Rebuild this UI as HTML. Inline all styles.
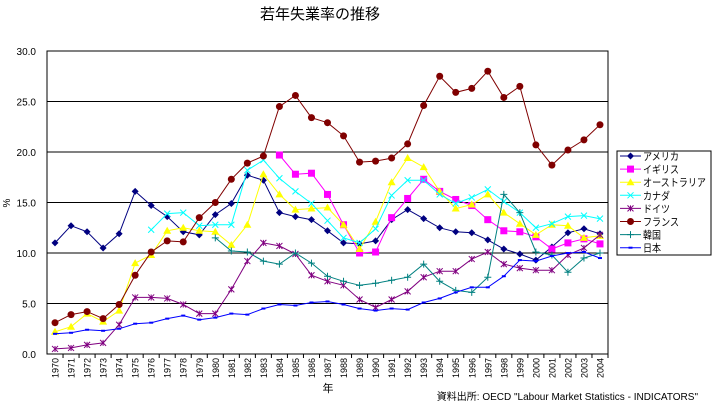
<!DOCTYPE html>
<html><head><meta charset="utf-8">
<style>
html,body{margin:0;padding:0;background:#fff;}
svg{display:block;font-family:"Liberation Sans","Noto Sans CJK JP",sans-serif;}
</style></head>
<body>
<svg id="chart" width="714" height="405" viewBox="0 0 714 405">
<text x="320" y="19" font-size="15" text-anchor="middle">若年失業率の推移</text>
<text x="10" y="203" font-size="10" text-anchor="middle" transform="rotate(-90 10 203)">%</text>
<text x="328" y="392" font-size="11" text-anchor="middle">年</text>
<text x="698" y="400" font-size="10" text-anchor="end">資料出所: OECD "Labour Market Statistics - INDICATORS"</text>
<g id="grid"></g><g id="series"></g><g id="axes"></g><g id="legend"></g>
</svg>
<script>
const years=[1970,1971,1972,1973,1974,1975,1976,1977,1978,1979,1980,1981,1982,1983,1984,1985,1986,1987,1988,1989,1990,1991,1992,1993,1994,1995,1996,1997,1998,1999,2000,2001,2002,2003,2004];
const yTicks=[0,5,10,15,20,25,30];
const seriesNames=["アメリカ","イギリス","オーストラリア","カナダ","ドイツ","フランス","韓国","日本"];
const usa=[11.0,12.7,12.1,10.5,11.9,16.1,14.7,13.6,12.1,11.8,13.8,14.9,17.7,17.2,14.0,13.6,13.3,12.2,11.0,10.9,11.2,13.3,14.3,13.4,12.5,12.1,12.0,11.3,10.4,9.9,9.3,10.6,12.0,12.4,11.9];
const uk=[null,null,null,null,null,null,null,null,null,null,null,null,null,null,19.7,17.8,17.9,15.8,12.8,10.0,10.1,13.5,15.4,17.3,16.1,15.3,14.7,13.3,12.2,12.1,11.6,10.4,11.0,11.4,10.9];
const aus=[2.2,2.7,4.0,3.2,4.3,9.0,9.8,12.2,12.5,12.2,12.1,10.8,12.8,17.8,15.8,14.3,14.4,14.5,12.8,10.4,13.1,17.0,19.4,18.5,16.1,14.4,14.8,15.8,14.0,12.9,11.8,12.8,12.7,11.5,11.7];
const can=[null,null,null,null,null,null,12.3,13.9,14.0,12.7,12.8,12.8,18.2,19.2,17.4,16.1,14.9,13.2,11.5,11.0,12.4,15.7,17.2,17.2,15.8,14.9,15.5,16.3,15.1,14.0,12.5,12.9,13.6,13.7,13.4];
const ger=[0.5,0.6,0.9,1.1,2.9,5.6,5.6,5.5,4.9,4.0,4.0,6.4,9.2,11.0,10.7,9.9,7.8,7.2,6.8,5.4,4.6,5.4,6.2,7.6,8.2,8.2,9.4,10.1,8.9,8.5,8.3,8.3,9.8,10.5,11.8];
const fra=[3.1,3.9,4.2,3.5,4.9,7.8,10.1,11.2,11.1,13.5,15.0,17.3,18.9,19.6,24.5,25.6,23.4,22.9,21.6,19.0,19.1,19.4,20.8,24.6,27.5,25.9,26.3,28.0,25.4,26.5,20.7,18.7,20.2,21.2,22.7];
const kor=[null,null,null,null,null,null,null,null,null,null,11.5,10.2,10.1,9.2,8.9,10.0,9.0,7.7,7.2,6.8,7.0,7.3,7.6,8.9,7.2,6.3,6.1,7.6,15.8,14.0,10.1,9.8,8.1,9.5,10.0];
const jpn=[2.0,2.1,2.4,2.3,2.5,3.0,3.1,3.5,3.8,3.4,3.6,4.0,3.9,4.5,4.9,4.8,5.1,5.2,4.9,4.5,4.3,4.5,4.4,5.1,5.5,6.1,6.6,6.6,7.7,9.3,9.2,9.7,10.0,10.1,9.5];
const allSeries=[usa,uk,aus,can,ger,fra,kor,jpn];
const colors=["#000080","#ff00ff","#ffff00","#00ffff","#800080","#800000","#008080","#0000ff"];
const markers=["diamond","square","triangle","x","star","circle","plus","dash"];
const keys=["usa","uk","australia","canada","germany","france","korea","japan"];

const L=47,R=608,T=51,B=354,yMax=30;
const band=(R-L)/years.length;
const xs=i=>L+band*(i+0.5);
const ys=v=>B-(v/yMax)*(B-T);
const NS="http://www.w3.org/2000/svg";
function mk(tag,attrs,parent){const e=document.createElementNS(NS,tag);for(const k in attrs)e.setAttribute(k,attrs[k]);parent.appendChild(e);return e;}
const grid=document.getElementById('grid'),axes=document.getElementById('axes'),ser=document.getElementById('series'),leg=document.getElementById('legend');

yTicks.forEach(t=>{
  if(t>0){const g=mk('line',{x1:L,x2:R,y1:ys(t),y2:ys(t),stroke:'#000','stroke-width':1},grid);
  
  }
  const tx=mk('text',{x:36,y:ys(t)+4,'font-size':10,'text-anchor':'end'},axes);
  tx.textContent=t.toFixed(1);
  
  
});
const frame=mk('rect',{x:L,y:T,width:R-L,height:B-T,fill:'none',stroke:'#000','stroke-width':1},axes);


years.forEach((yr,i)=>{
  const tk=mk('line',{x1:L+band*(i+1),x2:L+band*(i+1),y1:B,y2:B+4,stroke:'#000'},axes);
  
  
  const x=xs(i)+3.5,y=B+4;
  const tx=mk('text',{x:x,y:y,'font-size':9,'text-anchor':'end',transform:`rotate(-90 ${x} ${y})`},axes);
  tx.textContent=yr;
  
  
});

function marker(type,x,y,c,parent){
  let e;
  if(type==="diamond")e=mk('polygon',{points:`${x},${y-3.5} ${x+3.5},${y} ${x},${y+3.5} ${x-3.5},${y}`,fill:c},parent);
  else if(type==="square")e=mk('rect',{x:x-3.5,y:y-3.5,width:7,height:7,fill:c},parent);
  else if(type==="triangle")e=mk('polygon',{points:`${x},${y-4} ${x+4},${y+3} ${x-4},${y+3}`,fill:c},parent);
  else if(type==="x"){e=mk('path',{d:`M${x-3} ${y-3}L${x+3} ${y+3}M${x+3} ${y-3}L${x-3} ${y+3}`,stroke:c,'stroke-width':1},parent);}
  else if(type==="star"){e=mk('path',{d:`M${x-3} ${y-3}L${x+3} ${y+3}M${x+3} ${y-3}L${x-3} ${y+3}M${x} ${y-3}L${x} ${y+3}`,stroke:c,'stroke-width':1},parent);}
  else if(type==="circle")e=mk('circle',{cx:x,cy:y,r:3.5,fill:c},parent);
  else if(type==="plus"){e=mk('path',{d:`M${x-3.5} ${y}L${x+3.5} ${y}M${x} ${y-3.5}L${x} ${y+3.5}`,stroke:c,'stroke-width':1},parent);}
  else e=mk('rect',{x:x-2,y:y-1,width:4,height:2,fill:c},parent);
  return e;
}

allSeries.forEach((data,si)=>{
  const g=mk('g',{},ser);
  
  
  let d='',pen=false;
  data.forEach((v,i)=>{if(v==null){pen=false;return;}d+=(pen?'L':'M')+xs(i).toFixed(1)+' '+ys(v).toFixed(1);pen=true;});
  const p=mk('path',{d:d,fill:'none',stroke:colors[si],'stroke-width':1},g);
  
  
  data.forEach((v,i)=>{if(v==null)return;
    const m=marker(markers[si],xs(i),ys(v),colors[si],g);
    
    
  });
});

const lb=mk('rect',{x:617,y:151,width:94,height:104,fill:'#fff',stroke:'#000','stroke-width':1},leg);


seriesNames.forEach((n,si)=>{
  const y=156+si*13.1;
  const g=mk('g',{},leg);
  
  
  mk('line',{x1:620,x2:641,y1:y,y2:y,stroke:colors[si],'stroke-width':1},g);
  marker(markers[si],630.5,y,colors[si],g);
  const t=mk('text',{x:643,y:y+4,'font-size':10.5,textLength:n.length*9,lengthAdjust:'spacingAndGlyphs'},g);
  t.textContent=n;
});
</script>
</body></html>
